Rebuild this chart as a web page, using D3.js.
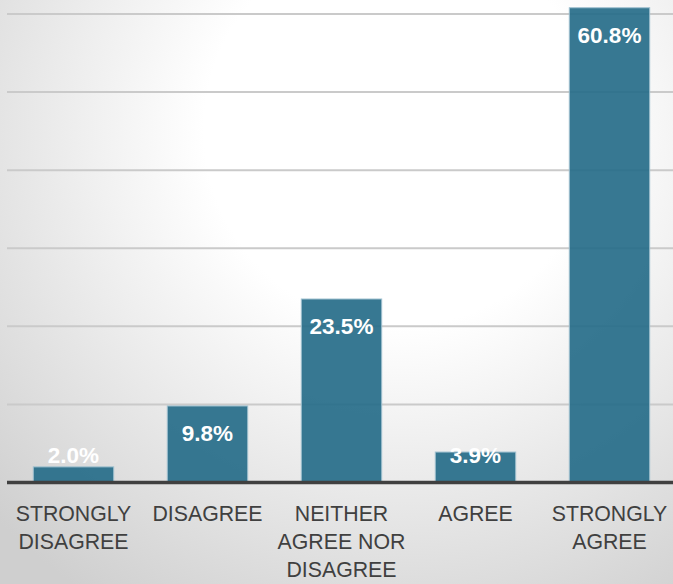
<!DOCTYPE html>
<html>
<head>
<meta charset="utf-8">
<script src="https://cdn.jsdelivr.net/npm/d3@7"></script>
<style>
  html, body { margin: 0; padding: 0; overflow: hidden; }
  svg { display: block; }
</style>
</head>
<body>
<script>
const categories = ["STRONGLY DISAGREE", "DISAGREE", "NEITHER AGREE NOR DISAGREE", "AGREE", "STRONGLY AGREE"];
const values = [2.0, 9.8, 23.5, 3.9, 60.8];
const valueLabels = ["2.0%", "9.8%", "23.5%", "3.9%", "60.8%"];
const gridTicks = [10, 20, 30, 40, 50, 60];

const W = 673, H = 584;
const svg = d3.select("body").append("svg").attr("width", W).attr("height", H);

const defs = svg.append("defs");
const grad = defs.append("radialGradient").attr("id", "bg")
  .attr("gradientUnits", "userSpaceOnUse")
  .attr("cx", 400).attr("cy", 130).attr("r", 560);
grad.append("stop").attr("offset", "0").attr("stop-color", "#ffffff");
grad.append("stop").attr("offset", "0.35").attr("stop-color", "#ffffff");
grad.append("stop").attr("offset", "1").attr("stop-color", "#cfcfcf");
svg.append("rect").attr("width", W).attr("height", H).attr("fill", "url(#bg)");

const x = d3.scaleBand().domain(categories).range([6.5, 676.5]).paddingInner(0.4).paddingOuter(0.2);
const y = d3.scaleLinear().domain([0, 60]).range([482.5, 14]);

// gridlines
svg.append("g").selectAll("line").data(gridTicks).join("line")
  .attr("x1", 7).attr("x2", W)
  .attr("y1", d => y(d)).attr("y2", d => y(d))
  .attr("stroke", "#cacaca").attr("stroke-width", 2);

// bars
svg.append("g").selectAll("rect").data(values).join("rect")
  .attr("x", (d, i) => x(categories[i]))
  .attr("width", x.bandwidth())
  .attr("y", d => y(d))
  .attr("height", d => y(0) - y(d))
  .attr("fill", "#266c89").attr("fill-opacity", 0.92)
  .attr("stroke", "#9fc0cf").attr("stroke-width", 1);

// baseline
svg.append("line").attr("x1", 7).attr("x2", W).attr("y1", y(0)).attr("y2", y(0))
  .attr("stroke", "#404040").attr("stroke-width", 3.5);

// value labels
svg.append("g").selectAll("text").data(values).join("text")
  .attr("x", (d, i) => x(categories[i]) + x.bandwidth() / 2)
  .attr("y", d => Math.min(y(d) + 35, y(0) - 19.5))
  .attr("text-anchor", "middle")
  .attr("font-family", "Liberation Sans, Arial, sans-serif")
  .attr("font-weight", "bold").attr("font-size", 22.5)
  .attr("fill", "#ffffff")
  .text((d, i) => valueLabels[i]);

// category labels with wrapping
const catG = svg.append("g");
categories.forEach(c => {
  const t = catG.append("text")
    .attr("x", x(c) + x.bandwidth() / 2)
    .attr("y", 521)
    .attr("text-anchor", "middle")
    .attr("font-family", "Liberation Sans, Arial, sans-serif")
    .attr("font-size", 21.3).attr("fill", "#404040");
  const words = c.split(" ");
  let line = [];
  let tspan = t.append("tspan").attr("x", x(c) + x.bandwidth() / 2).attr("dy", 0);
  words.forEach(w => {
    line.push(w);
    tspan.text(line.join(" "));
    if (tspan.node().getComputedTextLength() > 131 && line.length > 1) {
      line.pop();
      tspan.text(line.join(" "));
      line = [w];
      tspan = t.append("tspan").attr("x", x(c) + x.bandwidth() / 2).attr("dy", 28).text(w);
    }
  });
});
</script>
</body>
</html>
